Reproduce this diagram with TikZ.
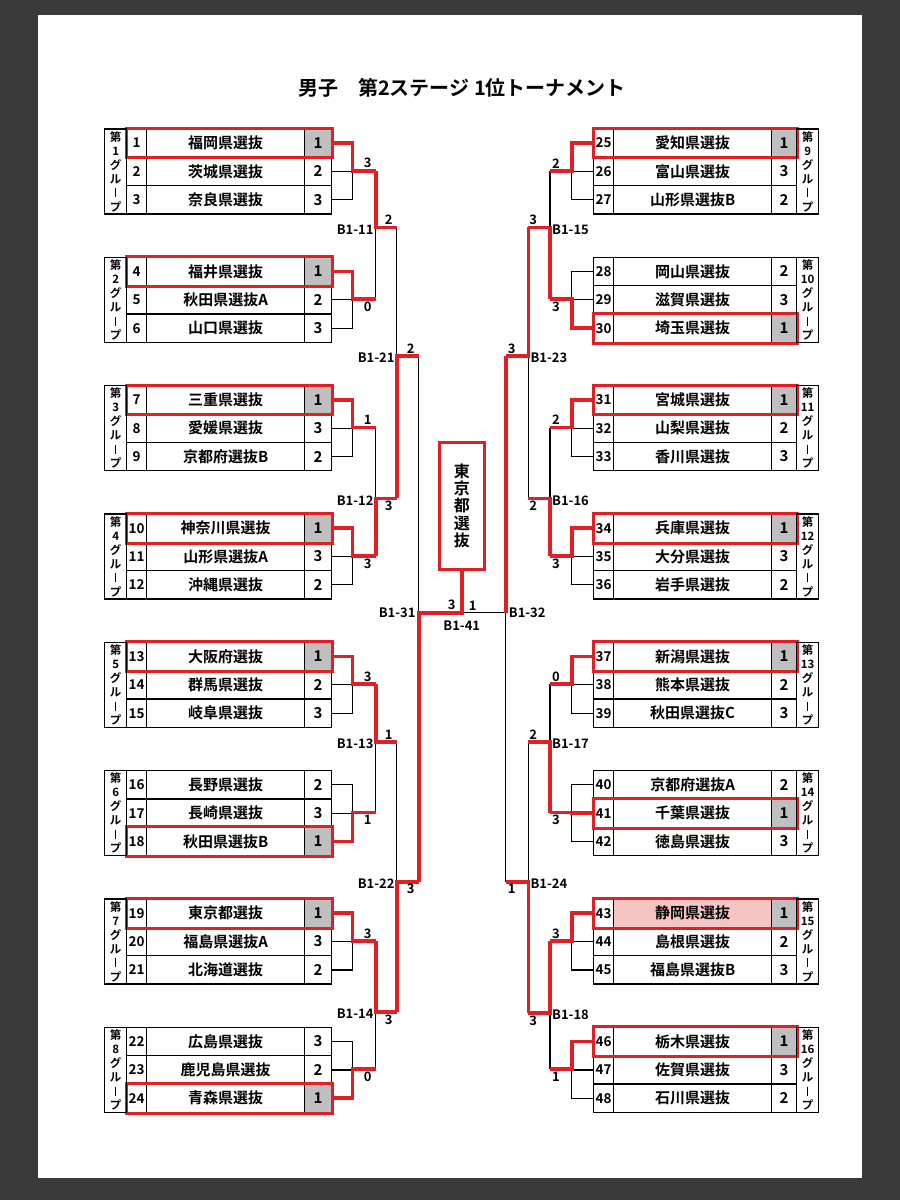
\documentclass[tikz,border=0pt]{standalone}
\usepackage{fontspec}
\setmainfont{Noto Sans CJK JP}[BoldFont={Noto Sans CJK JP Bold}]
\usetikzlibrary{positioning}
\definecolor{Rojo}{HTML}{E01F26}
\definecolor{Gris}{HTML}{BFBFBF}
\definecolor{Fondo}{HTML}{3A3A3A}
\definecolor{Rosa}{HTML}{F7C4C4}
\pgfdeclarelayer{pagina}
\pgfdeclarelayer{negras}
\pgfsetlayers{pagina,negras,main}
\newcommand{\chobo}{\rule[-0.02em]{0.13em}{0.78em}}

\begin{document}
\begin{tikzpicture}[
  x=1pt,y=-1pt,
  font=\bfseries,
  celda/.style={draw,line width=1.3pt,inner sep=0pt,minimum height=28.35pt,anchor=north west},
  grupo/.style={draw,line width=1.3pt,inner sep=0pt,minimum width=22pt,minimum height=85.05pt,
    anchor=north west,align=center,font=\bfseries\fontsize{11.5}{14}\selectfont},
  ganador/.style={draw=Rojo,line width=3pt},
  linea/.style={line width=1.2pt},
  roja/.style={draw=Rojo,line width=3.6pt},
  marca/.style={font=\bfseries\fontsize{13}{13}\selectfont,inner sep=1pt},
  arriba/.style={above=1.5pt},
  abajo/.style={below=1.5pt},
  bloque/.style={font=\bfseries\fontsize{13}{13}\selectfont,inner sep=0pt}
]
  \useasboundingbox (0,0) rectangle (900,1200);
  \begin{pgfonlayer}{pagina}
    \fill[Fondo] (0,0) rectangle (900,1200);
    \fill[white] (38,15) rectangle (862,1178);
  \end{pgfonlayer}

  % Titulo
  \node[font=\bfseries\fontsize{20}{20}\selectfont] (titulo) at (462,88)
    {男子\quad 第2ステージ 1位トーナメント};

  % Filas de equipos: numero, nombre, puesto en el grupo
  \foreach \eqp/\nom/\pts in {
    1/福岡県選抜/1,2/茨城県選抜/2,3/奈良県選抜/3,
    4/福井県選抜/1,5/秋田県選抜A/2,6/山口県選抜/3,
    7/三重県選抜/1,8/愛媛県選抜/3,9/京都府選抜B/2,
    10/神奈川県選抜/1,11/山形県選抜A/3,12/沖縄県選抜/2,
    13/大阪府選抜/1,14/群馬県選抜/2,15/岐阜県選抜/3,
    16/長野県選抜/2,17/長崎県選抜/3,18/秋田県選抜B/1,
    19/東京都選抜/1,20/福島県選抜A/3,21/北海道選抜/2,
    22/広島県選抜/3,23/鹿児島県選抜/2,24/青森県選抜/1,
    25/愛知県選抜/1,26/富山県選抜/3,27/山形県選抜B/2,
    28/岡山県選抜/2,29/滋賀県選抜/3,30/埼玉県選抜/1,
    31/宮城県選抜/1,32/山梨県選抜/2,33/香川県選抜/3,
    34/兵庫県選抜/1,35/大分県選抜/3,36/岩手県選抜/2,
    37/新潟県選抜/1,38/熊本県選抜/2,39/秋田県選抜C/3,
    40/京都府選抜A/2,41/千葉県選抜/1,42/徳島県選抜/3,
    43/静岡県選抜/1,44/島根県選抜/2,45/福島県選抜B/3,
    46/栃木県選抜/1,47/佐賀県選抜/3,48/石川県選抜/2}{
    \pgfmathtruncatemacro{\grp}{(\eqp-1)/3}
    \pgfmathtruncatemacro{\fila}{\eqp-1-3*\grp}
    \pgfmathtruncatemacro{\gpos}{mod(\grp,8)}
    \pgfmathsetmacro{\yy}{128.3+128.35*\gpos+28.35*\fila}
    \ifnum\pts=1 \def\fsc{Gris}\else\def\fsc{white}\fi
    \ifnum\eqp=43 \def\fnm{Rosa}\else\def\fnm{white}\fi
    \ifnum\eqp<25
      \node[celda,minimum width=20pt,font=\bfseries\fontsize{13.5}{13.5}\selectfont] (nb\eqp) at (126,\yy) {\eqp};
      \node[celda,minimum width=158pt,fill=\fnm,font=\bfseries\fontsize{15}{15}\selectfont] (nm\eqp) at (146,\yy) {\nom};
      \node[celda,minimum width=27pt,fill=\fsc,font=\bfseries\fontsize{15}{15}\selectfont] (sc\eqp) at (304,\yy) {\pts};
      \coordinate (e\eqp) at (sc\eqp.east);
    \else
      \node[celda,minimum width=20pt,font=\bfseries\fontsize{13.5}{13.5}\selectfont] (nb\eqp) at (593,\yy) {\eqp};
      \node[celda,minimum width=158pt,fill=\fnm,font=\bfseries\fontsize{15}{15}\selectfont] (nm\eqp) at (613,\yy) {\nom};
      \node[celda,minimum width=25pt,fill=\fsc,font=\bfseries\fontsize{15}{15}\selectfont] (sc\eqp) at (771,\yy) {\pts};
      \coordinate (e\eqp) at (nb\eqp.west);
    \fi
  }
  \foreach \w in {1,4,7,10,13,18,19,24,25,30,31,34,37,41,43,46}
    \draw[ganador] (nb\w.north west) rectangle (sc\w.south east);

  % Etiquetas verticales de grupo
  \foreach \grp in {1,...,16}{
    \pgfmathtruncatemacro{\gpos}{mod(\grp-1,8)}
    \pgfmathsetmacro{\yy}{128.3+128.35*\gpos}
    \ifnum\grp<9 \def\xx{104}\else\def\xx{796}\fi
    \node[grupo] (gr\grp) at (\xx,\yy) {第\\\grp\\グ\\ル\\\chobo\\プ};
  }

  % Salida de cada grupo
  \foreach \grp/\gw/\res/\pos in {1/1/3/arriba,2/4/0/abajo,3/7/1/arriba,4/10/3/abajo,
      5/13/3/arriba,6/18/1/abajo,7/19/3/arriba,8/24/0/abajo,
      9/25/2/arriba,10/30/3/abajo,11/31/2/arriba,12/34/3/abajo,
      13/37/0/arriba,14/41/3/abajo,15/43/3/arriba,16/46/1/abajo}{
    \pgfmathtruncatemacro{\gpos}{mod(\grp-1,8)}
    \pgfmathsetmacro{\yy}{170.8+128.35*\gpos}
    \pgfmathtruncatemacro{\ea}{3*\grp-2}
    \pgfmathtruncatemacro{\eb}{3*\grp-1}
    \pgfmathtruncatemacro{\ec}{3*\grp}
    \ifnum\grp<9 \def\xa{352.5}\def\xb{375.7}\def\dx{-8}\else\def\xa{571.7}\def\xb{550}\def\dx{6}\fi
    \coordinate (g\grp) at (\xa,\yy);
    \coordinate (o\grp) at (\xb,\yy);
    \begin{pgfonlayer}{negras}
      \foreach \eqp in {\ea,\eb,\ec}{\ifnum\eqp=\gw\else\draw[linea] (e\eqp) -| (g\grp);\fi}
    \end{pgfonlayer}
    \draw[roja] (e\gw) -| (g\grp) -- (o\grp);
    \node[marca,\pos,xshift=\dx pt] at (o\grp) {\res};
  }

  % Primera ronda
  \foreach \mt/\ga/\gb/\gw/\yy/\res/\pos in {11/1/2/1/227.3/2/arriba,12/3/4/4/498.3/3/abajo,
      13/5/6/5/741.7/1/arriba,14/7/8/7/1012/3/abajo,
      15/9/10/10/227.3/3/arriba,16/11/12/12/498.3/2/abajo,
      17/13/14/14/741.7/2/arriba,18/15/16/15/1013/3/abajo}{
    \ifnum\ga<9 \def\xa{375.7}\def\xb{396.7}\def\dx{-8}\def\lado{east}\def\sx{-2}%
    \else\def\xa{550}\def\xb{528.3}\def\dx{5}\def\lado{west}\def\sx{2}\fi
    \coordinate (j\mt) at (\xa,\yy);
    \coordinate (q\mt) at (\xb,\yy);
    \begin{pgfonlayer}{negras}\draw[linea] (o\ga) -- (o\gb);\end{pgfonlayer}
    \draw[roja] (o\gw) -- (j\mt) -- (q\mt);
    \node[bloque,anchor=\lado,xshift=\sx pt,yshift=-2pt] (B\mt) at (j\mt) {B1-\mt};
    \node[marca,\pos,xshift=\dx pt] at (q\mt) {\res};
  }

  % Segunda ronda
  \foreach \mt/\ga/\gb/\gw/\yy/\res/\pos in {21/11/12/12/356/2/arriba,22/13/14/14/881.7/3/abajo,
      23/15/16/15/356/3/arriba,24/17/18/18/881.7/1/abajo}{
    \ifnum\ga<15 \def\xa{396.7}\def\xb{418.7}\def\dx{-8}\def\lado{east}\def\sx{-2}%
    \else\def\xa{528.3}\def\xb{505.7}\def\dx{6}\def\lado{west}\def\sx{2}\fi
    \coordinate (k\mt) at (\xa,\yy);
    \coordinate (r\mt) at (\xb,\yy);
    \begin{pgfonlayer}{negras}\draw[linea] (q\ga) -- (q\gb);\end{pgfonlayer}
    \draw[roja] (q\gw) -- (k\mt) -- (r\mt);
    \node[bloque,anchor=\lado,xshift=\sx pt,yshift=-2pt] (B\mt) at (k\mt) {B1-\mt};
    \node[marca,\pos,xshift=\dx pt] at (r\mt) {\res};
  }

  % Semifinales y final
  \coordinate (z31) at (418.7,612.7);
  \coordinate (z32) at (505.7,612.7);
  \node[draw=Rojo,line width=3pt,minimum width=45pt,minimum height=127pt,inner sep=0pt,align=center,
    font=\bfseries\fontsize{16}{17.3}\selectfont] (campeon) at (461.8,505.8) {東\\京\\都\\選\\抜};
  \coordinate (fin) at (campeon.south |- z31);
  \begin{pgfonlayer}{negras}
    \draw[linea] (r21) -- (r22);
    \draw[linea] (r23) -- (r24);
    \draw[linea] (fin) -- (z32);
  \end{pgfonlayer}
  \draw[roja] (r22) -- (z31) -- (fin) -- (campeon.south);
  \draw[roja] (r23) -- (z32);
  \node[bloque,anchor=east,xshift=-3pt] (B31) at (z31) {B1-31};
  \node[bloque,anchor=west,xshift=3pt] (B32) at (z32) {B1-32};
  \node[bloque,below=8pt] (B41) at (fin) {B1-41};
  \node[marca,above=1.5pt,xshift=-10pt] at (fin) {3};
  \node[marca,above=1.5pt,xshift=11pt] at (fin) {1};
\end{tikzpicture}
\end{document}
